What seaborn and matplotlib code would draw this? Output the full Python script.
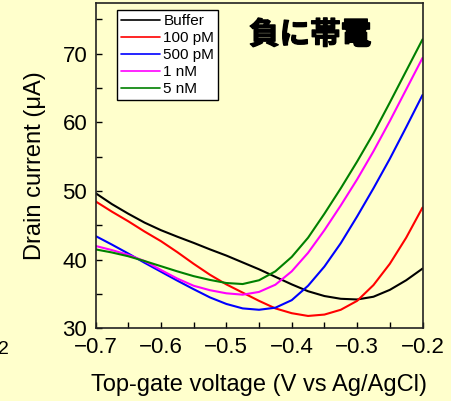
import pandas as pd
import matplotlib.pyplot as plt
import matplotlib.patheffects as pe
import seaborn as sns
from matplotlib.ticker import MultipleLocator

# gate voltage (V vs Ag/AgCl)
voltage = [-0.7, -0.675, -0.65, -0.625, -0.6, -0.575, -0.55, -0.525, -0.5, -0.475, -0.45,
           -0.425, -0.4, -0.375, -0.35, -0.325, -0.3, -0.275, -0.25, -0.225, -0.2]

# drain current (uA)
buffer_ = [49.7, 48.1, 46.7, 45.4, 44.3, 43.35, 42.45, 41.5, 40.6, 39.6, 38.6,
           37.5, 36.4, 35.4, 34.7, 34.3, 34.2, 34.6, 35.6, 37.0, 38.7]
pm_100 = [48.5, 47.0, 45.6, 44.1, 42.7, 41.1, 39.4, 37.8, 36.4, 35.2, 34.0,
          32.9, 32.2, 31.8, 32.0, 32.7, 34.0, 36.3, 39.4, 43.2, 47.6]
pm_500 = [43.45, 42.2, 40.9, 39.55, 38.25, 36.95, 35.7, 34.5, 33.55, 32.9, 32.7,
          33.0, 34.1, 36.2, 39.0, 42.4, 46.3, 50.4, 54.7, 59.3, 64.0]
nm_1 = [42.0, 41.4, 40.7, 39.8, 38.5, 37.25, 36.2, 35.55, 35.1, 34.9, 35.3,
        36.35, 38.3, 41.0, 44.3, 47.9, 51.7, 55.8, 60.2, 64.8, 69.4]
nm_5 = [41.5, 41.05, 40.5, 39.8, 39.05, 38.3, 37.6, 37.05, 36.6, 36.45, 37.0,
        38.3, 40.4, 43.2, 46.7, 50.4, 54.3, 58.4, 62.9, 67.5, 72.1]

SERIES = ['Buffer', '100 pM', '500 pM', '1 nM', '5 nM']
PALETTE = {
    'Buffer': '#000000',
    '100 pM': '#FF0000',
    '500 pM': '#0000FF',
    '1 nM': '#FF00FF',
    '5 nM': '#008000',
}
BG = '#FFFFCC'


def main():
    sns.set_theme(style="ticks")
    plt.rcParams['font.family'] = ['Liberation Sans', 'Noto Sans CJK JP', 'DejaVu Sans']
    for key in ['text.color', 'axes.labelcolor', 'xtick.color', 'ytick.color']:
        plt.rcParams[key] = 'black'

    frames = []
    for name, vals in zip(SERIES, [buffer_, pm_100, pm_500, nm_1, nm_5]):
        frames.append(pd.DataFrame({'V': voltage, 'I': vals, 'sample': name}))
    df = pd.concat(frames, ignore_index=True)

    fig = plt.figure(figsize=(4.52, 4.01), dpi=100, facecolor=BG)
    ax = fig.add_axes([0.2113, 0.1813, 0.7235, 0.8112])
    ax.set_facecolor(BG)

    sns.lineplot(
        data=df, x='V', y='I', hue='sample', hue_order=SERIES,
        palette=PALETTE, estimator=None, sort=False,
        linewidth=1.5, ax=ax
    )

    ax.set_xlim(-0.7, -0.2)
    ax.set_ylim(30, 77.4)
    ax.xaxis.set_minor_locator(MultipleLocator(0.05))
    ax.yaxis.set_major_locator(MultipleLocator(10))
    ax.yaxis.set_minor_locator(MultipleLocator(5))
    ax.set_xticks([-0.7, -0.6, -0.5, -0.4, -0.3, -0.2])
    ax.set_xticklabels(['\u22120.7', '\u22120.6', '\u22120.5', '\u22120.4', '\u22120.3', '\u22120.2'])
    ax.tick_params(which='both', direction='in', top=False, right=False,
                   color='black', labelcolor='black', width=1)
    ax.tick_params(which='major', length=4, labelsize=16, pad=6)
    ax.tick_params(which='minor', length=4)
    for sp in ax.spines.values():
        sp.set_color('#222222')
        sp.set_linewidth(1.2)

    ax.set_xlabel('Top-gate voltage (V vs Ag/AgCl)', fontsize=17, labelpad=12, color='black')
    ax.set_ylabel('Drain current (\u03bcA)', fontsize=17, labelpad=12, color='black')

    leg = ax.legend(
        loc='upper left', bbox_to_anchor=(0.065, 0.978), borderaxespad=0,
        fontsize=11, frameon=True, fancybox=False, edgecolor='black',
        facecolor='white', framealpha=1, handlelength=2.6,
        handletextpad=0.2, labelspacing=0.2, borderpad=0.25
    )
    leg.get_frame().set_linewidth(1.0)
    for line in leg.get_lines():
        line.set_linewidth(1.2)
    for t in leg.get_texts():
        t.set_color('black')

    ax.text(0.656, 0.902, '負に帯電', transform=ax.transAxes,
            ha='center', va='center', fontsize=22, fontweight='bold',
            family=['Noto Sans CJK JP', 'DejaVu Sans'], color='black',
            path_effects=[pe.withStroke(linewidth=1.0, foreground='black')])

    fig.text(-0.004, 0.128, '2', fontsize=14, ha='left', va='center', color='black')

    fig.savefig('out.png', dpi=100, facecolor=BG)
    plt.close(fig)


if __name__ == "__main__":
    main()
